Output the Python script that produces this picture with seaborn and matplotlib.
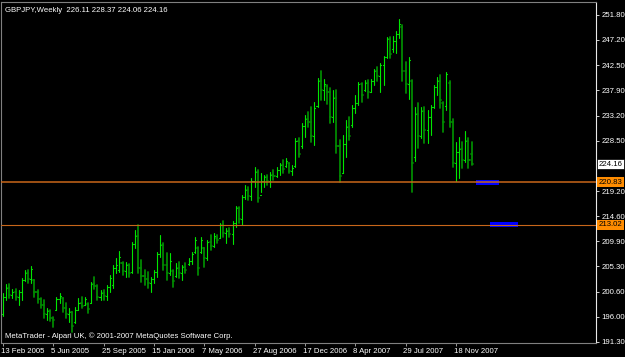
import matplotlib
matplotlib.use("Agg")
import matplotlib.pyplot as plt
import matplotlib.transforms as mtransforms
import seaborn as sns
import pandas as pd

# ---------------- data (weekly GBPJPY) ----------------
highs = [200.37, 202.03, 202.03, 201.11, 201.11, 200.92, 203.14, 204.62, 204.62, 205.36,
         202.77, 200.92, 199.44, 199.07, 197.59, 197.22, 195.93, 199.63, 200.37, 199.44,
         198.52, 197.59, 196.85, 197.78, 199.44, 199.63, 199.63, 198.52, 202.40, 203.33,
         201.85, 200.92, 200.92, 201.85, 203.70, 205.55, 206.84, 208.14, 206.10, 206.10,
         205.73, 209.80, 212.02, 212.95, 206.47, 204.62, 204.25, 203.33, 204.62, 207.95,
         211.10, 209.62, 207.77, 207.77, 204.62, 205.92, 206.10, 205.55, 205.92, 206.84,
         207.95, 210.73, 208.88, 210.73, 208.69, 210.17, 211.10, 211.47, 211.10, 213.32,
         213.69, 212.39, 212.39, 213.69, 216.46, 216.28, 218.50, 220.35, 219.98, 221.64,
         223.68, 223.12, 222.57, 222.20, 222.20, 222.75, 223.12, 223.68, 224.42, 224.97,
         225.34, 224.42, 224.05, 229.04, 229.04, 231.82, 233.30, 233.85, 234.78, 235.70,
         240.14, 241.44, 239.96, 238.85, 238.29, 237.92, 237.92, 228.67, 229.60, 232.37,
         232.93, 235.15, 237.00, 239.40, 239.22, 239.77, 239.77, 239.96, 241.81, 242.18,
         242.92, 244.21, 247.73, 247.73, 247.91, 248.84, 251.06, 249.95, 243.10, 244.03,
         239.77, 234.78, 235.52, 234.78, 234.78, 234.22, 235.15, 238.85, 240.33, 240.70,
         235.70, 241.25, 239.59, 232.56, 228.30, 229.23, 228.30, 230.34, 229.04, 228.37]
lows = [196.11, 199.07, 199.44, 199.44, 199.07, 198.15, 199.07, 202.59, 202.22, 202.22,
        199.63, 198.52, 197.59, 195.74, 195.37, 195.19, 194.08, 197.22, 198.52, 196.85,
        195.74, 195.00, 193.15, 194.82, 197.22, 197.59, 198.15, 196.67, 198.52, 201.11,
        199.07, 199.07, 199.07, 199.07, 200.55, 201.29, 204.07, 204.25, 203.70, 203.33,
        203.33, 204.07, 208.69, 204.07, 202.40, 201.85, 201.29, 200.55, 202.22, 203.33,
        207.03, 204.62, 202.77, 203.70, 201.48, 203.33, 203.14, 202.77, 204.07, 205.55,
        205.73, 207.77, 203.70, 207.77, 205.18, 206.47, 208.32, 208.88, 209.62, 210.54,
        210.73, 209.62, 210.73, 209.43, 212.58, 213.32, 212.95, 217.76, 217.57, 217.57,
        219.98, 217.20, 219.05, 219.98, 220.35, 219.98, 221.27, 221.83, 222.20, 222.57,
        223.68, 222.57, 222.20, 223.68, 225.53, 227.19, 229.23, 231.08, 228.30, 227.75,
        234.78, 236.07, 236.07, 235.33, 231.82, 232.00, 226.27, 220.90, 222.57, 225.53,
        228.67, 231.08, 233.67, 235.15, 235.70, 237.74, 236.44, 237.55, 238.85, 239.59,
        237.55, 238.85, 243.84, 243.84, 244.95, 244.77, 247.54, 239.59, 237.37, 236.26,
        219.05, 224.79, 227.19, 229.04, 228.12, 228.12, 229.60, 234.59, 237.00, 234.59,
        230.15, 234.22, 231.08, 223.68, 221.09, 221.64, 223.49, 224.60, 223.49, 224.06]
opens = [196.5, 199.6, 201.2, 200.0, 200.6, 199.6, 200.5, 202.8, 204.0, 203.0,
         202.7, 200.5, 199.2, 198.2, 196.5, 197.0, 195.8, 197.3, 199.2, 199.4,
         197.5, 196.4, 196.8, 195.0, 197.3, 198.6, 198.2, 198.3, 198.6, 202.0,
         201.6, 199.6, 200.4, 199.8, 201.5, 201.8, 205.0, 204.6, 206.0, 204.4,
         205.5, 204.3, 209.4, 211.0, 205.0, 203.5, 203.0, 202.2, 203.0, 204.2,
         207.5, 209.2, 205.5, 204.0, 204.5, 203.5, 205.0, 204.0, 205.2, 205.7,
         206.3, 207.9, 208.7, 208.0, 208.6, 206.8, 209.8, 209.0, 210.5, 210.6,
         213.0, 211.5, 211.8, 211.2, 213.3, 216.0, 214.0, 218.2, 219.5, 218.3,
         221.0, 222.8, 218.5, 221.0, 221.8, 221.0, 222.2, 222.0, 223.2, 224.0,
         223.9, 224.4, 223.0, 223.9, 228.5, 227.5, 231.2, 232.5, 232.0, 229.5,
         235.0, 239.6, 238.0, 238.6, 237.6, 233.0, 236.4, 227.5, 222.5, 228.0,
         231.0, 231.5, 234.6, 235.5, 239.0, 238.0, 239.2, 237.6, 239.5, 241.5,
         240.5, 242.6, 244.0, 247.3, 245.5, 247.0, 248.2, 249.5, 241.5, 239.0,
         239.5, 225.5, 233.5, 229.5, 234.0, 230.5, 233.0, 234.8, 238.5, 239.6,
         235.5, 235.0, 239.3, 232.0, 224.5, 226.5, 227.0, 225.0, 228.5, 226.11]
closes = [199.6, 201.2, 200.0, 200.6, 199.6, 200.5, 202.8, 204.0, 203.0, 204.8,
          200.5, 199.2, 198.2, 196.5, 197.0, 195.8, 195.4, 199.2, 199.8, 197.5,
          196.4, 196.9, 194.3, 197.3, 198.6, 198.0, 199.2, 197.4, 202.0, 201.6,
          199.6, 200.4, 199.8, 201.5, 203.2, 205.0, 205.6, 207.0, 204.4, 205.5,
          204.0, 209.4, 211.0, 205.0, 203.5, 203.0, 202.2, 203.0, 204.2, 207.5,
          209.2, 205.5, 204.0, 206.3, 202.5, 205.0, 204.0, 205.2, 204.6, 206.3,
          207.6, 210.2, 205.0, 210.2, 206.8, 209.8, 209.0, 210.9, 210.2, 213.0,
          211.5, 211.8, 211.2, 213.3, 216.0, 214.0, 218.2, 219.5, 218.3, 221.0,
          222.8, 218.0, 221.0, 221.8, 221.0, 222.2, 222.0, 223.2, 224.0, 223.3,
          224.8, 223.0, 223.5, 228.5, 226.0, 231.2, 232.5, 232.0, 229.5, 234.5,
          239.6, 238.0, 239.0, 237.6, 233.0, 236.4, 227.5, 222.0, 228.0, 231.0,
          229.5, 234.6, 235.5, 239.0, 237.0, 239.2, 237.5, 239.5, 241.5, 240.5,
          242.6, 244.0, 247.3, 244.5, 247.0, 248.2, 250.2, 241.5, 239.0, 243.5,
          224.5, 233.5, 229.5, 234.0, 230.5, 233.0, 234.8, 238.5, 239.6, 236.0,
          232.0, 240.8, 232.0, 224.5, 226.5, 227.0, 225.0, 228.5, 225.0, 224.16]

date_labels = ["13 Feb 2005", "5 Jun 2005", "25 Sep 2005", "15 Jan 2006", "7 May 2006",
               "27 Aug 2006", "17 Dec 2006", "8 Apr 2007", "29 Jul 2007", "18 Nov 2007"]
weeks_per_label = 16

price_ticks = [191.30, 196.00, 200.60, 205.30, 209.90, 214.60, 219.20,
               228.50, 233.20, 237.90, 242.50, 247.20, 251.80]

levels = [220.83, 213.02]            # orange horizontal lines
last_price = 224.16
blue_start = [150.3, 155.0]          # blue marks (week index)
blue_end = [157.7, 163.8]
blue_top = [221.27, 213.50]
blue_bottom = [220.35, 212.60]

header = "GBPJPY,Weekly  226.11 228.37 224.06 224.16"
footer = "MetaTrader - Alpari UK, \u00a9 2001-2007 MetaQuotes Software Corp."

# ---------------- build long table for seaborn ----------------
rows = []
for i, (o, h, l, c) in enumerate(zip(opens, highs, lows, closes)):
    d = "up" if c >= o else "down"
    rows.append((i, h, 3 * i, d)); rows.append((i, l, 3 * i, d))
    rows.append((i - 0.33, o, 3 * i + 1, d)); rows.append((i, o, 3 * i + 1, d))
    rows.append((i, c, 3 * i + 2, d)); rows.append((i + 0.33, c, 3 * i + 2, d))
df = pd.DataFrame(rows, columns=["week", "price", "unit", "dir"])

# ---------------- style ----------------
sns.set_theme(style="dark", rc={
    "figure.facecolor": "black", "axes.facecolor": "black",
    "axes.edgecolor": "#808080", "text.color": "white",
    "xtick.color": "#9a9a9a", "ytick.color": "#d0d0d0",
    "xtick.labelcolor": "white", "ytick.labelcolor": "white",
    "axes.grid": False,
})
plt.rcParams["font.family"] = ["Liberation Sans", "DejaVu Sans"]
FS = 5.6

fig = plt.figure(figsize=(6.25, 3.57), dpi=100)
ax = fig.add_axes([1 / 625, 14 / 357, 595 / 625, 341 / 357])

sns.lineplot(data=df, x="week", y="price", units="unit", hue="dir", size="dir",
             sizes={"up": 0.8, "down": 1.3},
             palette={"up": "#00E600", "down": "#008A00"},
             estimator=None, sort=False, legend=False, ax=ax)

# blue marks
for x0, x1, t, b in zip(blue_start, blue_end, blue_top, blue_bottom):
    ax.fill_between([x0, x1], [b, b], [t, t], color="#0000FF", lw=0, zorder=3)

# orange levels
for k, lv in enumerate(levels):
    ax.axhline(lv, color="#C8661A", lw=1.1 if k == 0 else 0.8, zorder=4)

ax.set_xlim(-0.64, 188.55)
ax.set_ylim(191.115, 254.2)
ax.set_xlabel(""); ax.set_ylabel("")

# y axis on the right
ax.yaxis.tick_right()
ax.set_yticks(price_ticks)
ax.set_yticklabels([f"{v:.2f}" for v in price_ticks], fontsize=FS)
ax.tick_params(axis="y", length=2.5, width=0.7, pad=1.5, right=True, left=False)

# x axis
ax.set_xticks([k * weeks_per_label for k in range(len(date_labels))])
ax.set_xticklabels(date_labels, fontsize=FS, ha="left")
ax.tick_params(axis="x", length=2.5, width=0.7, pad=1.0, bottom=True)
for lab in ax.get_xticklabels():
    lab.set_transform(lab.get_transform() + mtransforms.ScaledTranslation(-1.5 / 72, 0, fig.dpi_scale_trans))

for s in ["left", "top", "bottom"]:
    ax.spines[s].set_color("#808080"); ax.spines[s].set_linewidth(0.8)
ax.spines["right"].set_color("#e8e8e8"); ax.spines["right"].set_linewidth(0.8)

# price boxes on the right
trans = mtransforms.blended_transform_factory(ax.transAxes, ax.transData) + \
    mtransforms.ScaledTranslation(2.5 / 100, 0, fig.dpi_scale_trans)
for lv in levels:
    ax.text(1.0, lv, f"{lv:.2f}", transform=trans, fontsize=FS, color="black",
            ha="left", va="center", zorder=6, clip_on=False,
            bbox=dict(boxstyle="square,pad=0.2", fc="#FF8C00", ec="none"))
ax.text(1.0, last_price, f"{last_price:.2f}", transform=trans, fontsize=FS, color="black",
        ha="left", va="center", zorder=6, clip_on=False,
        bbox=dict(boxstyle="square,pad=0.2", fc="white", ec="black", lw=0.5))

ax.text(0.007, 0.985, header, transform=ax.transAxes, fontsize=FS, color="white",
        ha="left", va="top")
ax.text(0.006, 0.008, footer, transform=ax.transAxes, fontsize=FS, color="white",
        ha="left", va="bottom")

fig.savefig("out.png", dpi=100, facecolor="black")
